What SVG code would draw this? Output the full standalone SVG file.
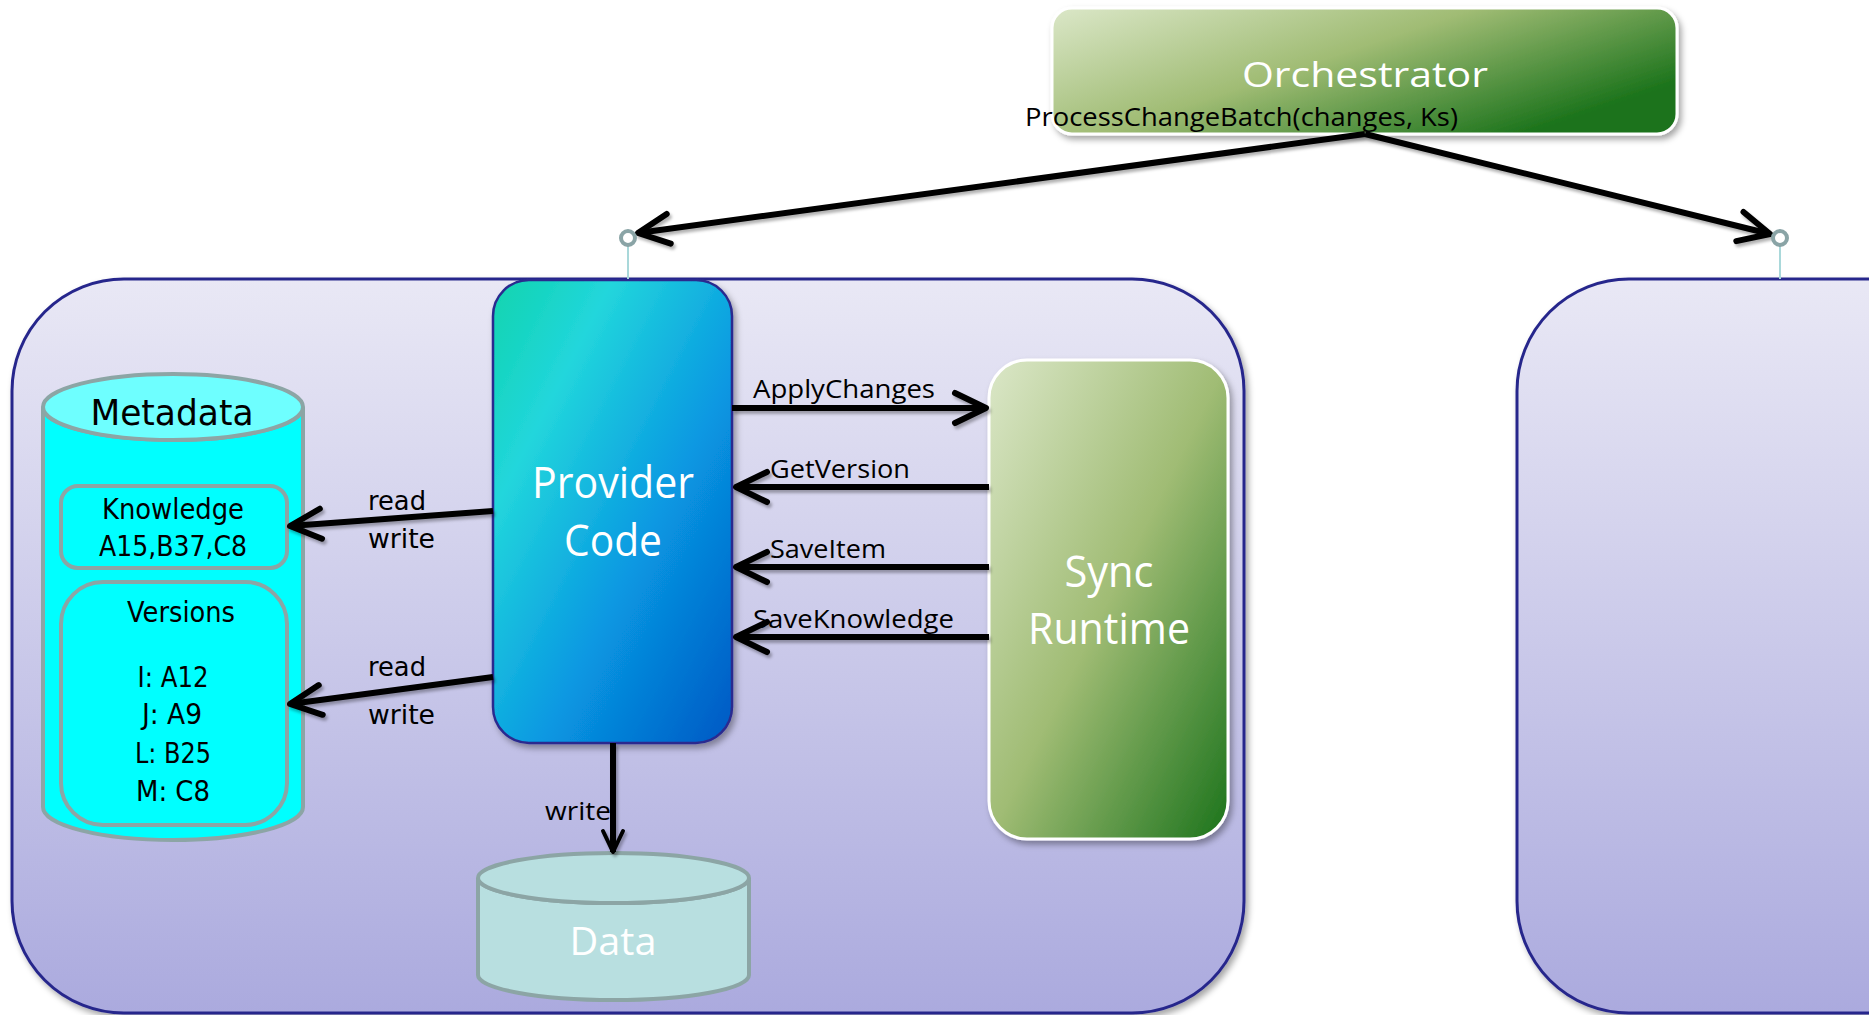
<svg xmlns="http://www.w3.org/2000/svg" width="1869" height="1015" viewBox="0 0 1869 1015">
<defs>
  <linearGradient id="gContainer" x1="0" y1="0" x2="0" y2="1">
    <stop offset="0" stop-color="#e9e8f5"/>
    <stop offset="1" stop-color="#abaade"/>
  </linearGradient>
  <linearGradient id="gGreen" x1="0" y1="0" x2="1" y2="1">
    <stop offset="0" stop-color="#dbe7c8"/>
    <stop offset="0.5" stop-color="#a0bc74"/>
    <stop offset="1" stop-color="#1b731b"/>
  </linearGradient>
  <linearGradient id="gGreenWide" x1="0" y1="0" x2="1" y2="0.6">
    <stop offset="0" stop-color="#dbe7c8"/>
    <stop offset="0.5" stop-color="#a0bc74"/>
    <stop offset="1" stop-color="#1b731b"/>
  </linearGradient>
  <linearGradient id="gBlue" x1="0" y1="0" x2="1" y2="1">
    <stop offset="0" stop-color="#0fd4ae"/>
    <stop offset="0.25" stop-color="#22d6dc"/>
    <stop offset="0.6" stop-color="#0898e2"/>
    <stop offset="1" stop-color="#0058c4"/>
  </linearGradient>
  <filter id="shadow" x="-10%" y="-10%" width="130%" height="130%">
    <feDropShadow dx="3" dy="4" stdDeviation="3" flood-color="#000" flood-opacity="0.35"/>
  </filter>
  <filter id="lineShadow" x="-5%" y="-20%" width="110%" height="140%">
    <feDropShadow dx="2" dy="3" stdDeviation="1.5" flood-color="#000" flood-opacity="0.3"/>
  </filter>
  <marker id="arrow" viewBox="-40 -20 46 40" refX="0" refY="0" markerWidth="46" markerHeight="40" markerUnits="userSpaceOnUse" orient="auto" overflow="visible">
    <path d="M-31,-15 L0,0 L-31,15" fill="none" stroke="#000" stroke-width="6" stroke-linecap="round" stroke-linejoin="round"/>
  </marker>
  <marker id="arrowSmall" viewBox="-30 -15 34 30" refX="0" refY="0" markerWidth="34" markerHeight="30" markerUnits="userSpaceOnUse" orient="auto" overflow="visible">
    <path d="M-21,-10 L0,0 L-21,10" fill="none" stroke="#000" stroke-width="4" stroke-linecap="round" stroke-linejoin="round"/>
  </marker>
  <style>
    .container { fill: url(#gContainer); stroke: #28288c; stroke-width: 3; }
    .green { stroke: #ffffff; stroke-width: 3; filter: url(#shadow); }
    .wtitle { font-family: "Open Sans", "Liberation Sans", sans-serif; fill: #ffffff; text-anchor: middle; }
    .lbl { font-family: "Open Sans", "Liberation Sans", sans-serif; fill: #000; font-size: 26px; }
    .vlbl { font-family: "DejaVu Sans", "Liberation Sans", sans-serif; fill: #000; }
    .cyl { stroke: #8ca5a5; stroke-width: 4; }
    .conn { stroke: #000; stroke-width: 6; fill: none; }
    .port { fill: #ffffff; stroke: #8aa4a6; stroke-width: 4; }
    .portline { stroke: #a9d8da; stroke-width: 2; }
  </style>
</defs>

<g id="container-left">
  <rect class="container" x="12" y="279" width="1232" height="734" rx="112" ry="112" filter="url(#shadow)"/>
</g>
<g id="container-right">
  <rect class="container" x="1517" y="279" width="500" height="734" rx="112" ry="112" filter="url(#shadow)"/>
</g>

<g id="orchestrator">
  <rect class="green" x="1052" y="8" width="625" height="126" rx="20" ry="20" fill="url(#gGreenWide)"/>
  <text class="wtitle" x="1365" y="87" font-size="35" textLength="246" lengthAdjust="spacingAndGlyphs">Orchestrator</text>
</g>

<g id="provider-code">
  <rect x="493" y="280" width="239" height="463" rx="36" ry="36" fill="url(#gBlue)" stroke="#2b2b8f" stroke-width="2.5" filter="url(#shadow)"/>
  <text class="wtitle" x="613" y="498" font-size="43" textLength="162" lengthAdjust="spacingAndGlyphs">Provider</text>
  <text class="wtitle" x="613" y="556" font-size="43" textLength="98" lengthAdjust="spacingAndGlyphs">Code</text>
</g>

<g id="sync-runtime">
  <rect class="green" x="989" y="360" width="239" height="479" rx="38" ry="38" fill="url(#gGreen)"/>
  <text class="wtitle" x="1109" y="587" font-size="43" textLength="89" lengthAdjust="spacingAndGlyphs">Sync</text>
  <text class="wtitle" x="1109" y="644" font-size="43" textLength="162" lengthAdjust="spacingAndGlyphs">Runtime</text>
</g>

<g id="metadata">
  <path class="cyl" d="M43,407 L43,807 A130,33 0 0 0 303,807 L303,407 A130,33 0 0 1 43,407 Z" fill="#00ffff"/>
  <ellipse class="cyl" cx="173" cy="407" rx="130" ry="33" fill="#6effff"/>
  <text class="vlbl" x="172" y="425" font-size="36" text-anchor="middle" textLength="163" lengthAdjust="spacingAndGlyphs">Metadata</text>
</g>

<g id="knowledge">
  <rect class="cyl" x="61" y="486" width="226" height="82" rx="17" ry="17" fill="#00ffff"/>
  <text class="vlbl" x="173" y="519" font-size="28" text-anchor="middle" textLength="142" lengthAdjust="spacingAndGlyphs">Knowledge</text>
  <text class="vlbl" x="173" y="556" font-size="28" text-anchor="middle" textLength="148" lengthAdjust="spacingAndGlyphs">A15,B37,C8</text>
</g>

<g id="versions">
  <rect class="cyl" x="61" y="582" width="226" height="243" rx="42" ry="42" fill="#00ffff"/>
  <text class="vlbl" x="181" y="622" font-size="28" text-anchor="middle" textLength="108" lengthAdjust="spacingAndGlyphs">Versions</text>
  <text class="vlbl" x="173" y="687" font-size="28" text-anchor="middle" textLength="71" lengthAdjust="spacingAndGlyphs">I: A12</text>
  <text class="vlbl" x="172" y="724" font-size="28" text-anchor="middle" textLength="60" lengthAdjust="spacingAndGlyphs">J: A9</text>
  <text class="vlbl" x="173" y="763" font-size="28" text-anchor="middle" textLength="76" lengthAdjust="spacingAndGlyphs">L: B25</text>
  <text class="vlbl" x="173" y="801" font-size="28" text-anchor="middle" textLength="74" lengthAdjust="spacingAndGlyphs">M: C8</text>
</g>

<g id="data">
  <path class="cyl" d="M478,878 L478,975 A135.5,25 0 0 0 749,975 L749,878 A135.5,25 0 0 1 478,878 Z" fill="#b8dfe0"/>
  <ellipse class="cyl" cx="613.5" cy="878" rx="135.5" ry="25" fill="#b8dfe0"/>
  <text class="wtitle" x="613" y="955" font-size="39" textLength="87" lengthAdjust="spacingAndGlyphs">Data</text>
</g>

<g id="connectors">
  <g filter="url(#lineShadow)">
    <line class="conn" x1="1365" y1="134" x2="638" y2="233" marker-end="url(#arrow)"/>
    <line class="conn" x1="1365" y1="134" x2="1770" y2="234" marker-end="url(#arrow)"/>
    <line class="conn" x1="732" y1="408" x2="986" y2="408" marker-end="url(#arrow)"/>
    <line class="conn" x1="989" y1="487" x2="736" y2="487" marker-end="url(#arrow)"/>
    <line class="conn" x1="989" y1="567" x2="736" y2="567" marker-end="url(#arrow)"/>
    <line class="conn" x1="989" y1="637" x2="736" y2="637" marker-end="url(#arrow)"/>
    <line class="conn" x1="493" y1="511" x2="290" y2="526" marker-end="url(#arrow)"/>
    <line class="conn" x1="493" y1="677" x2="290" y2="704" marker-end="url(#arrow)"/>
    <line class="conn" stroke-width="4" x1="613" y1="743" x2="613" y2="852" marker-end="url(#arrowSmall)"/>
  </g>
  <line class="portline" x1="628" y1="246" x2="628" y2="279"/>
  <circle class="port" cx="628" cy="238" r="7"/>
  <line class="portline" x1="1780" y1="246" x2="1780" y2="279"/>
  <circle class="port" cx="1780" cy="238" r="7"/>

  <text class="lbl" x="1025" y="126" font-size="28" textLength="433" lengthAdjust="spacingAndGlyphs">ProcessChangeBatch(changes, Ks)</text>
  <text class="lbl" x="753" y="398" textLength="182" lengthAdjust="spacingAndGlyphs">ApplyChanges</text>
  <text class="lbl" x="770" y="478" textLength="140" lengthAdjust="spacingAndGlyphs">GetVersion</text>
  <text class="lbl" x="770" y="558" textLength="116" lengthAdjust="spacingAndGlyphs">SaveItem</text>
  <text class="lbl" x="753" y="628" textLength="201" lengthAdjust="spacingAndGlyphs">SaveKnowledge</text>
  <text class="lbl" x="545" y="820" textLength="66" lengthAdjust="spacingAndGlyphs">write</text>
  <text class="vlbl" x="368" y="510" font-size="26" textLength="58" lengthAdjust="spacingAndGlyphs">read</text>
  <text class="vlbl" x="368" y="548" font-size="26" textLength="67" lengthAdjust="spacingAndGlyphs">write</text>
  <text class="vlbl" x="368" y="676" font-size="26" textLength="58" lengthAdjust="spacingAndGlyphs">read</text>
  <text class="vlbl" x="368" y="724" font-size="26" textLength="67" lengthAdjust="spacingAndGlyphs">write</text>
</g>
</svg>
